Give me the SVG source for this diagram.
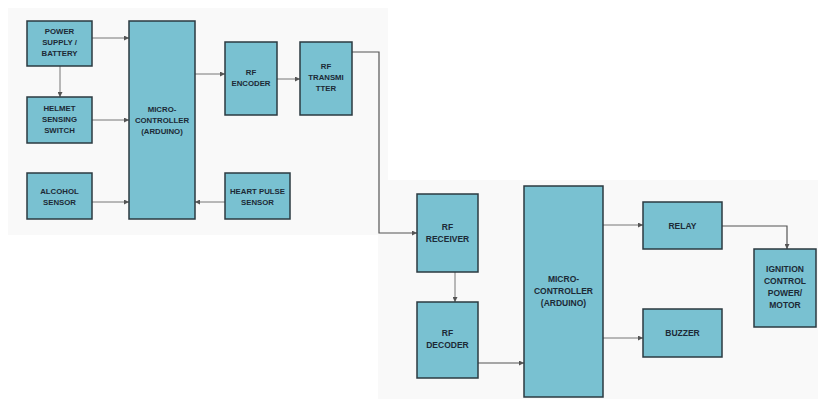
<svg xmlns="http://www.w3.org/2000/svg" width="818" height="399" viewBox="0 0 818 399">
<style>
.bg{fill:#f9f9f9}
.box rect{fill:#79c1d1;stroke:#2b3a40;stroke-width:1.5}
.box text{font-family:"Liberation Sans",Arial,sans-serif;font-weight:bold;font-size:7.8px;fill:#1c2a36;text-anchor:middle}
.b2 text{font-size:8.5px}
.c{fill:none;stroke:#777;stroke-width:1}
.cd{fill:none;stroke:#555;stroke-width:1.2}
</style>
<defs>
<marker id="ah" viewBox="0 0 6 6" refX="6" refY="3" markerWidth="5" markerHeight="5" orient="auto" markerUnits="userSpaceOnUse">
<path d="M0,0 L6,3 L0,6 z" fill="#555"/>
</marker>
</defs>
<rect width="818" height="399" fill="#ffffff"/>
<rect class="bg" x="8" y="8" width="380" height="227"/>
<rect class="bg" x="378" y="180" width="440" height="219"/>

<g id="connectors">
<line class="c" x1="92" y1="38" x2="129" y2="38" marker-end="url(#ah)"/>
<line class="c" x1="60" y1="66" x2="60" y2="97" marker-end="url(#ah)"/>
<line class="c" x1="92" y1="120" x2="129" y2="120" marker-end="url(#ah)"/>
<line class="c" x1="92" y1="202" x2="129" y2="202" marker-end="url(#ah)"/>
<line class="c" x1="225" y1="202" x2="195" y2="202" marker-end="url(#ah)"/>
<line class="c" x1="195" y1="74" x2="225" y2="74" marker-end="url(#ah)"/>
<line class="c" x1="277" y1="79" x2="300" y2="79" marker-end="url(#ah)"/>
<polyline class="cd" points="352,52 379,52 379,233 417,233" marker-end="url(#ah)"/>
<line class="c" x1="455" y1="272" x2="455" y2="302" marker-end="url(#ah)"/>
<line class="cd" x1="478" y1="363" x2="524" y2="363" marker-end="url(#ah)"/>
<line class="c" x1="603" y1="225" x2="643" y2="225" marker-end="url(#ah)"/>
<line class="c" x1="603" y1="338" x2="643" y2="338" marker-end="url(#ah)"/>
<polyline class="cd" points="722,226 787,226 787,249" marker-end="url(#ah)"/>
</g>

<g id="power" class="box"><rect x="27" y="21" width="65" height="45"/>
<text x="59.5" y="34">POWER</text><text x="59.5" y="45">SUPPLY /</text><text x="59.5" y="56">BATTERY</text></g>
<g id="helmet" class="box"><rect x="27" y="97" width="65" height="46"/>
<text x="59.5" y="111">HELMET</text><text x="59.5" y="122">SENSING</text><text x="59.5" y="133">SWITCH</text></g>
<g id="alcohol" class="box"><rect x="27" y="173" width="65" height="46"/>
<text x="59.5" y="194">ALCOHOL</text><text x="59.5" y="205">SENSOR</text></g>
<g id="micro1" class="box"><rect x="129" y="21" width="66" height="198"/>
<text x="162" y="112">MICRO-</text><text x="162" y="123">CONTROLLER</text><text x="162" y="134">(ARDUINO)</text></g>
<g id="encoder" class="box"><rect x="225" y="42" width="52" height="73"/>
<text x="251" y="75">RF</text><text x="251" y="86">ENCODER</text></g>
<g id="transmitter" class="box"><rect x="300" y="42" width="52" height="73"/>
<text x="326" y="69">RF</text><text x="326" y="80">TRANSMI</text><text x="326" y="91">TTER</text></g>
<g id="heart" class="box"><rect x="225" y="173" width="65" height="46"/>
<text x="257.5" y="194">HEART PULSE</text><text x="257.5" y="205">SENSOR</text></g>

<g id="receiver" class="box b2"><rect x="417" y="194" width="61" height="78"/>
<text x="447.5" y="230">RF</text><text x="447.5" y="242">RECEIVER</text></g>
<g id="decoder" class="box b2"><rect x="417" y="302" width="61" height="76"/>
<text x="447.5" y="336">RF</text><text x="447.5" y="348">DECODER</text></g>
<g id="micro2" class="box b2"><rect x="524" y="186" width="79" height="211"/>
<text x="563.5" y="282">MICRO-</text><text x="563.5" y="294">CONTROLLER</text><text x="563.5" y="306">(ARDUINO)</text></g>
<g id="relay" class="box b2"><rect x="643" y="202" width="79" height="47"/>
<text x="682.5" y="229">RELAY</text></g>
<g id="buzzer" class="box b2"><rect x="643" y="309" width="79" height="48"/>
<text x="682.5" y="336">BUZZER</text></g>
<g id="ignition" class="box b2"><rect x="754" y="249" width="62" height="78"/>
<text x="785" y="272">IGNITION</text><text x="785" y="284">CONTROL</text><text x="785" y="296">POWER/</text><text x="785" y="308">MOTOR</text></g>
</svg>
